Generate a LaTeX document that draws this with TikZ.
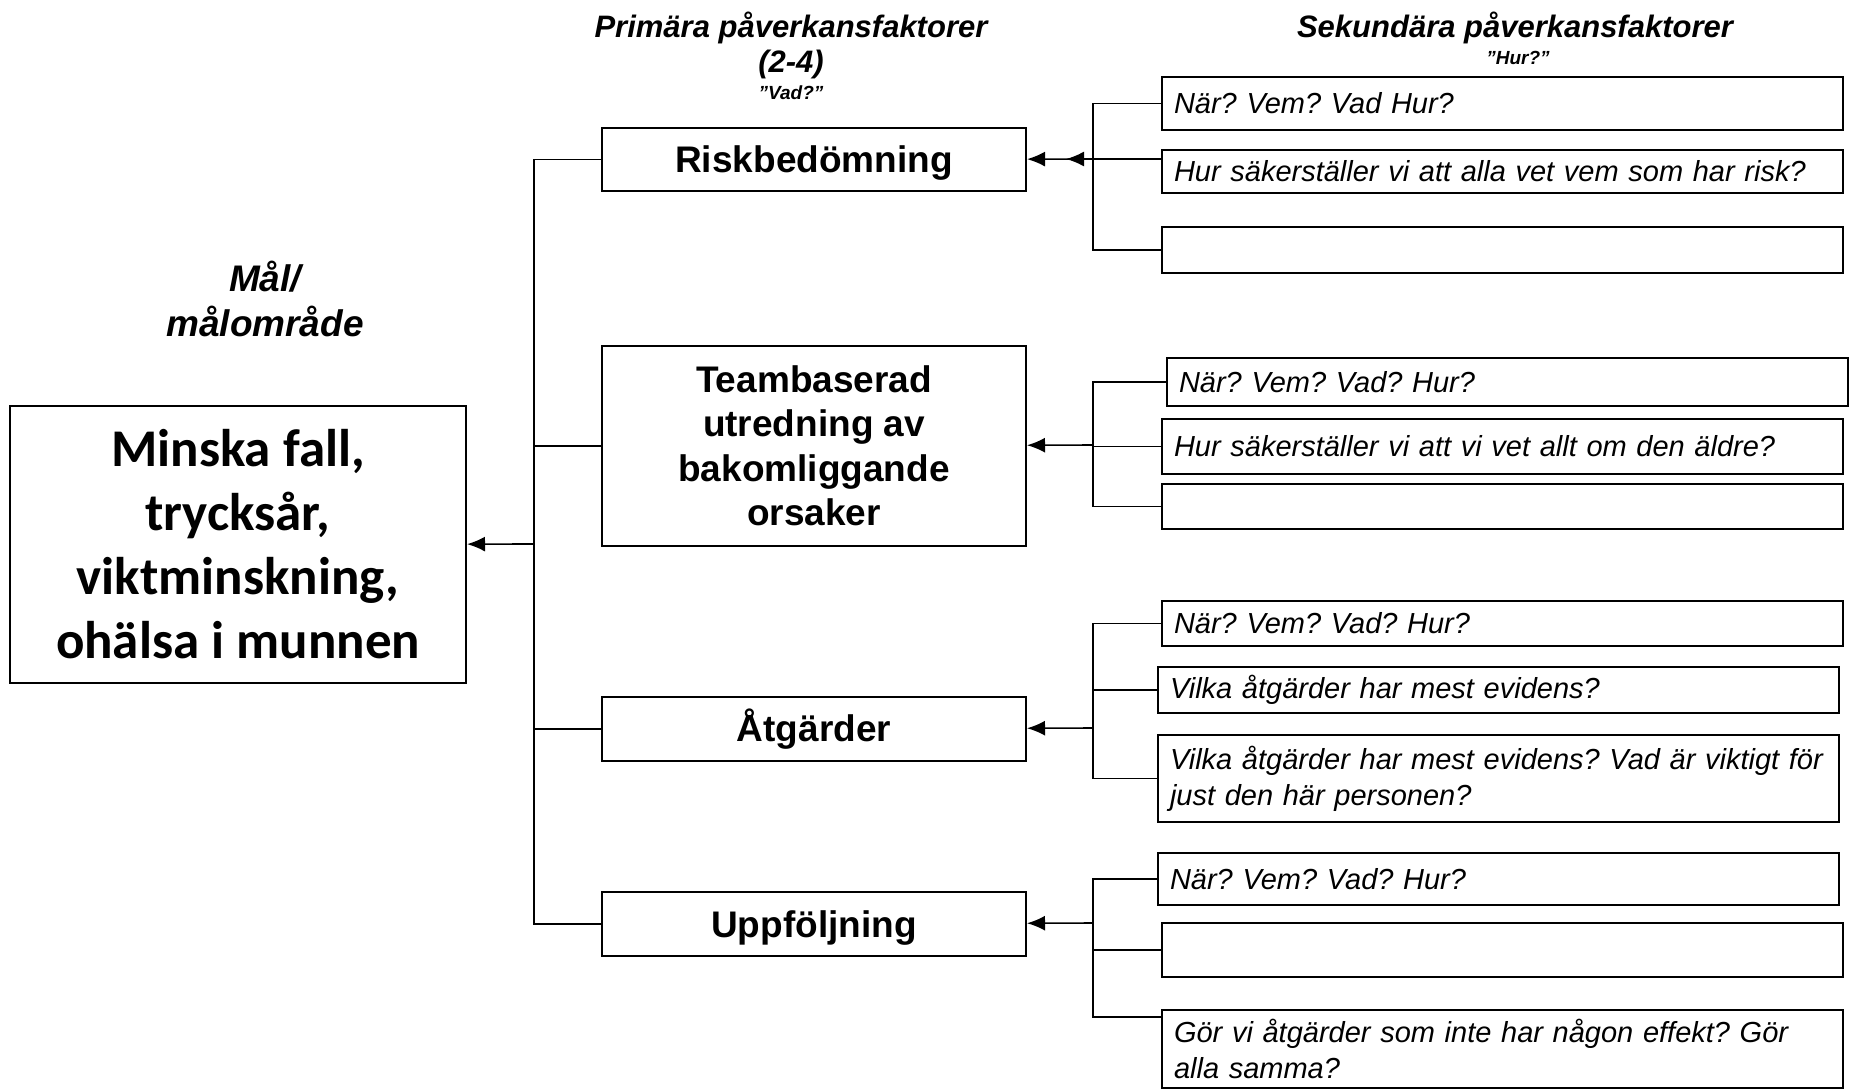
\documentclass[tikz,border=0pt]{standalone}
\usepackage{fontspec}
\setmainfont{Liberation Sans}
\newfontfamily\goalfont{Carlito}
\usetikzlibrary{arrows.meta}
\frenchspacing

\tikzset{
  box/.style={draw,line width=2pt,inner sep=0pt},
  goalbox/.style={box,anchor=north west,align=center,minimum width=456pt,minimum height=277pt,
    font=\goalfont\fontsize{53}{64}\selectfont\bfseries},
  primbox/.style={box,anchor=north west,align=center,minimum width=424pt,
    font=\fontsize{37}{44.5}\selectfont\bfseries},
  secbox/.style={box,anchor=north west,align=left,text width=657pt,inner xsep=12pt,
    font=\fontsize{29}{36}\selectfont\itshape},
  head/.style={anchor=base,inner sep=0pt,font=\fontsize{31}{35}\selectfont\bfseries\itshape},
  subhead/.style={anchor=base,inner sep=0pt,font=\fontsize{19}{22}\selectfont\bfseries\itshape},
  link/.style={line width=1.6pt},
  arr/.style={link,-{Latex[length=18pt,width=15pt]}},
}

\begin{document}
\begin{tikzpicture}[x=1pt,y=-1pt]
    \useasboundingbox (0,0) rectangle (1855,1088);

    % headings
    \node[head] (hprim) at (791,37) {Primära påverkansfaktorer};
    \node[head] (hnum) at (791,72) {(2-4)};
    \node[subhead] (hvad) at (791,99) {”Vad?”};
    \node[head] (hsek) at (1515,37) {Sekundära påverkansfaktorer};
    \node[subhead] (hhur) at (1518,64) {”Hur?”};
    \node[head,font=\fontsize{37}{41}\selectfont\bfseries\itshape] (hmal) at (265,291) {Mål/};
    \node[head,font=\fontsize{37}{41}\selectfont\bfseries\itshape] (hmalomr) at (265,336) {målområde};

    % goal
    \node[goalbox] (goal) at (9,405) {Minska fall,\\trycksår,\\viktminskning,\\ohälsa i munnen};

    % primary factors
    \node[primbox,minimum height=63pt,text depth=0pt] (risk) at (601,127) {Riskbedömning};
    \node[primbox,minimum height=200pt] (team) at (601,345) {Teambaserad\\utredning av\\bakomliggande\\orsaker};
    \node[primbox,minimum height=64pt] (atg) at (601,696) {Åtgärder};
    \node[primbox,minimum height=64pt,text depth=0pt] (upp) at (601,891) {Uppföljning};

    % secondary factors
    \node[secbox,minimum height=53pt] (s1a) at (1161,76) {När? Vem? Vad Hur?};
    \node[secbox,minimum height=43pt] (s1b) at (1161,149) {Hur säkerställer vi att alla vet vem som har risk?};
    \node[secbox,minimum height=46pt] (s1c) at (1161,226) {};

    \node[secbox,minimum height=48pt] (s2a) at (1166,357) {När? Vem? Vad? Hur?};
    \node[secbox,minimum height=55pt] (s2b) at (1161,418) {Hur säkerställer vi att vi vet allt om den äldre?};
    \node[secbox,minimum height=45pt] (s2c) at (1161,483) {};

    \node[secbox,minimum height=45pt] (s3a) at (1161,600) {När? Vem? Vad? Hur?};
    \node[secbox,minimum height=46pt] (s3b) at (1157,666) {Vilka åtgärder har mest evidens?};
    \node[secbox,minimum height=87pt] (s3c) at (1157,734) {Vilka åtgärder har mest evidens? Vad är viktigt för\\just den här personen?};

    \node[secbox,minimum height=52pt] (s4a) at (1157,852) {När? Vem? Vad? Hur?};
    \node[secbox,minimum height=54pt] (s4b) at (1161,922) {};
    \node[secbox,minimum height=78pt] (s4c) at (1161,1009) {Gör vi åtgärder som inte har någon effekt? Gör\\alla samma?};

    % primary -> goal
    \coordinate (pbus) at (534,544);
    \draw[link] (risk.west) -| (pbus) |- (upp.west);
    \draw[link] (team.west) -- (team.west -| pbus);
    \draw[link] (atg.west) -- (atg.west -| pbus);
    \draw[arr] (pbus) -- (goal);

    % secondary -> primary
    \coordinate (b1) at (1093,159);
    \coordinate (t1) at (1066,159);
    \draw[link] (s1a.west) -| (b1) |- (s1c.west);
    \draw[arr] (s1b.west |- t1) -- (t1);
    \draw[arr] (b1) -- (risk);

    \coordinate (b2) at (1093,445);
    \draw[link] (s2a.west) -| (b2) |- (s2c.west);
    \draw[link] (s2b.west) -- (s2b.west -| b2);
    \draw[arr] (b2) -- (team);

    \coordinate (b3) at (1093,728);
    \draw[link] (s3a.west) -| (b3) |- (s3c.west);
    \draw[link] (s3b.west) -- (s3b.west -| b3);
    \draw[arr] (b3) -- (atg);

    \coordinate (b4) at (1093,923);
    \draw[link] (s4a.west) -| (b4) |- ([yshift=-8pt]s4c.north west);
    \draw[link] (s4b.west) -- (s4b.west -| b4);
    \draw[arr] (b4) -- (upp);

\end{tikzpicture}
\end{document}
